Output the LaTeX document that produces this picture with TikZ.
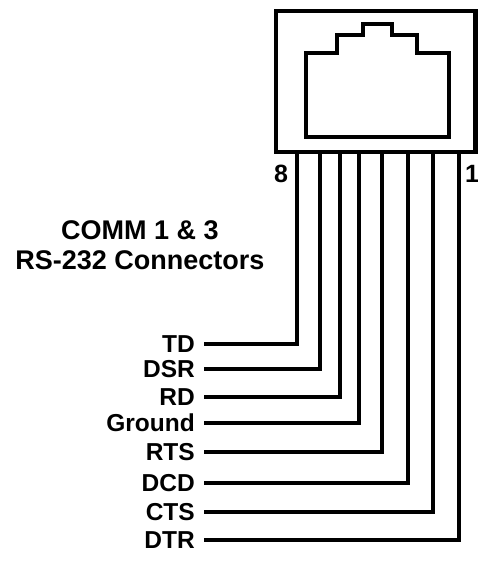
\documentclass[tikz,border=0pt]{standalone}
\usepackage{fontspec}
\setmainfont{Liberation Sans}
\begin{document}
\begin{tikzpicture}[x=1pt,y=-1pt,
  wire/.style={line width=4.5pt,line join=miter},
  sig/.style={font=\fontsize{24.5}{26}\selectfont\bfseries,anchor=east,inner sep=0pt,text height=17.5pt,text depth=0pt},
  pinnum/.style={font=\fontsize{25}{26}\selectfont\bfseries,inner sep=0pt,text height=18pt,text depth=0pt},
  title/.style={font=\fontsize{27}{30}\selectfont\bfseries,inner sep=0pt,align=center}]
\useasboundingbox (0,0) rectangle (478,568);
% jack body
\draw[line width=4.5pt] (276,11) rectangle (475.5,152);
\draw[line width=4.5pt,line join=miter] (306,137) -- (306,53) -- (337,53) -- (337,35) -- (363,35) -- (363,24) -- (392,24) -- (392,35) -- (417,35) -- (417,53) -- (449,53) -- (449,137) -- cycle;
% pin coordinates
\coordinate (p8) at (297,152);
\coordinate (p7) at (320,152);
\coordinate (p6) at (340,152);
\coordinate (p5) at (359,152);
\coordinate (p4) at (382,152);
\coordinate (p3) at (408,152);
\coordinate (p2) at (433,152);
\coordinate (p1) at (459,152);
% pin numbers
\node[pinnum] (n8) at (281,173) {8};
\node[pinnum] (n1) at (472,173) {1};
% title
\node[title] (t) at (140,245) {COMM 1 \& 3\\RS-232 Connectors};
% signal labels
\node[sig] (TD) at (195,344) {TD};
\node[sig] (DSR) at (195,369) {DSR};
\node[sig] (RD) at (195,397) {RD};
\node[sig] (GND) at (195,423) {Ground};
\node[sig] (RTS) at (195,452) {RTS};
\node[sig] (DCD) at (195,483) {DCD};
\node[sig] (CTS) at (195,512) {CTS};
\node[sig] (DTR) at (195,540) {DTR};
% wires
\draw[wire] ([xshift=9pt]TD.east) -| (p8);
\draw[wire] ([xshift=9pt]DSR.east) -| (p7);
\draw[wire] ([xshift=9pt]RD.east) -| (p6);
\draw[wire] ([xshift=9pt]GND.east) -| (p5);
\draw[wire] ([xshift=9pt]RTS.east) -| (p4);
\draw[wire] ([xshift=9pt]DCD.east) -| (p3);
\draw[wire] ([xshift=9pt]CTS.east) -| (p2);
\draw[wire] ([xshift=9pt]DTR.east) -| (p1);
\end{tikzpicture}
\end{document}
